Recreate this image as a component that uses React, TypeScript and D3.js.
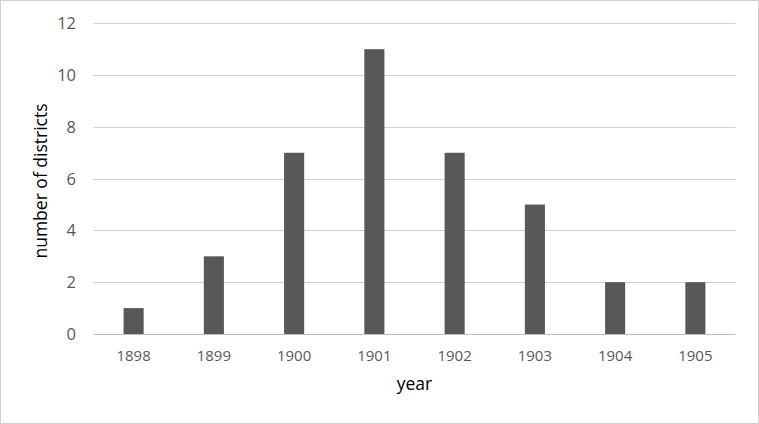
import React from "react";
import * as d3 from "d3";

const years = ["1898", "1899", "1900", "1901", "1902", "1903", "1904", "1905"];
const districts = [1, 3, 7, 11, 7, 5, 2, 2];
const yTicks = [0, 2, 4, 6, 8, 10, 12];

export default function App() {
  const W = 759, H = 424;
  const left = 93.5, right = 735.5, top = 23.3, bottom = 334;
  const x = d3.scaleBand<string>().domain(years).range([left, right]).paddingInner(0.75).paddingOuter(0.375);
  const y = d3.scaleLinear().domain([0, 12]).range([bottom, top]);
  const font = "'Open Sans', 'Noto Sans', sans-serif";
  return (
    <svg width={W} height={H} style={{ position: "absolute", left: 0, top: 0, background: "#fff" }}>
      <defs>
        <pattern id="dots" width="4" height="4" patternUnits="userSpaceOnUse">
          <rect width="4" height="4" fill="#555" />
          <rect x="1" y="1" width="1" height="1" fill="#6a6a6a" />
          <rect x="3" y="3" width="1" height="1" fill="#666" />
        </pattern>
      </defs>
      <rect x={0.5} y={0.5} width={W - 1} height={H - 1} fill="#fff" stroke="#d0d0d0" />
      {yTicks.map((t) => (
        <g key={t}>
          <line x1={left} x2={right} y1={Math.round(y(t)) + 0.5} y2={Math.round(y(t)) + 0.5} stroke={t === 0 ? "#bfbfbf" : "#d0d0d0"} strokeWidth={1} />
          <text x={76} y={y(t)} dy="0.36em" textAnchor="end" fontFamily={font} fontSize={16.5} fill="#595959">{t}</text>
        </g>
      ))}
      {years.map((yr, i) => (
        <g key={yr}>
          <rect x={x(yr)!} y={y(districts[i])} width={x.bandwidth()} height={y(0) - y(districts[i])} fill="url(#dots)" />
          <text x={x(yr)! + x.bandwidth() / 2} y={356} dy="0.36em" textAnchor="middle" fontFamily={font} fontSize={15} fill="#595959">{yr}</text>
        </g>
      ))}
      <text x={414.5} y={384} dy="0.35em" textAnchor="middle" fontFamily={font} fontSize={17.5} fill="#000">year</text>
      <text transform={`translate(40.5,181) rotate(-90)`} dy="0.35em" textAnchor="middle" fontFamily={font} fontSize={17.5} fill="#000">number of districts</text>
    </svg>
  );
}
